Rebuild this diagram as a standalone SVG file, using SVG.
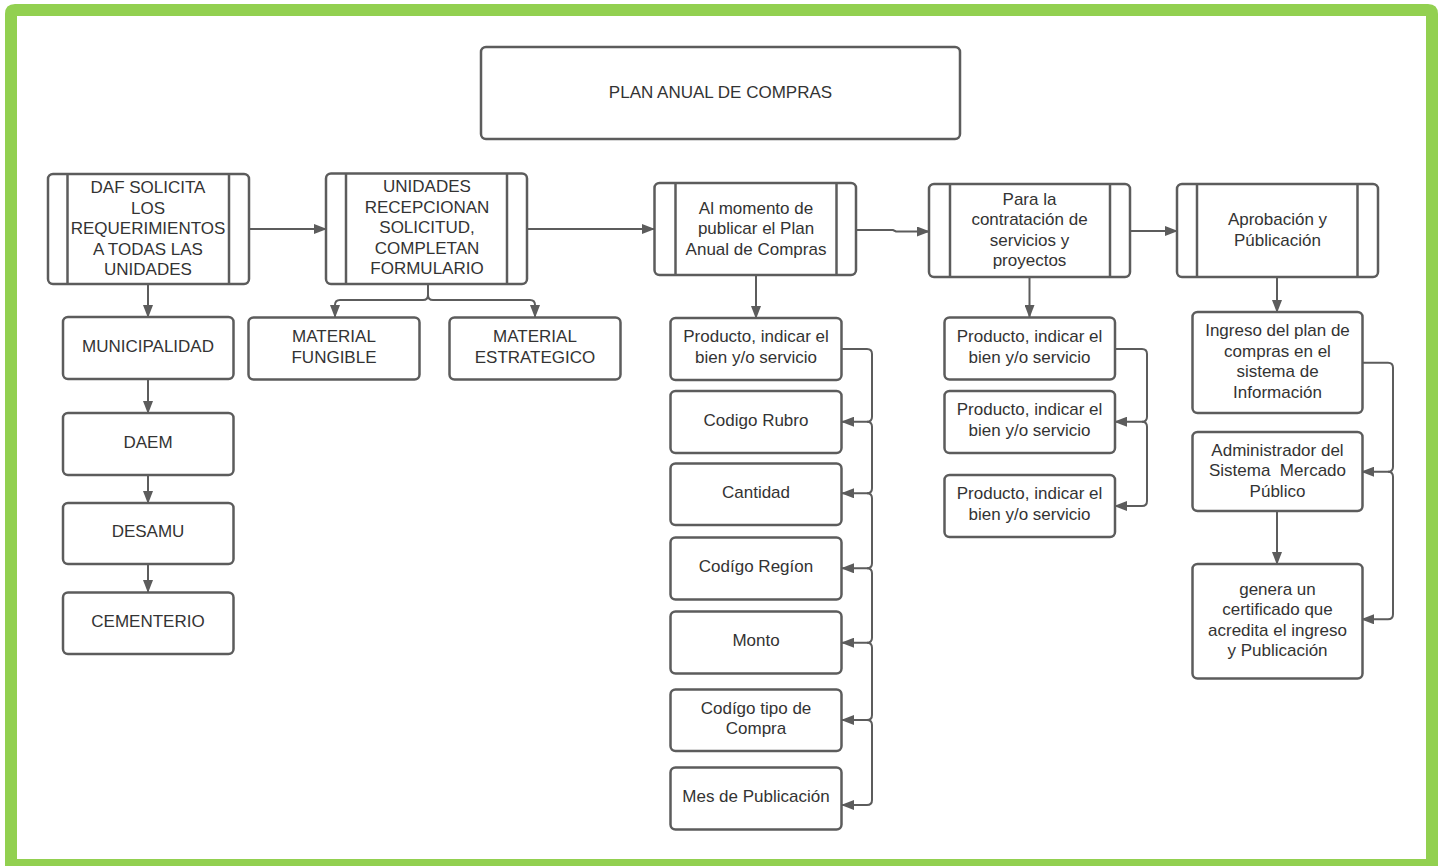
<svg xmlns="http://www.w3.org/2000/svg" width="1441" height="866" viewBox="0 0 1441 866">
<style>
.box{fill:#fff;stroke:#5c5c5c;stroke-width:2.5}
.bar{stroke:#5c5c5c;stroke-width:2.5}
.t{font-family:"Liberation Sans",Arial,sans-serif;font-size:17px;fill:#333;text-anchor:middle;white-space:pre}
.c{fill:none;stroke:#5c5c5c;stroke-width:2}
.ca{fill:none;stroke:#5c5c5c;stroke-width:2;marker-end:url(#ah)}
</style>
<defs>
<marker id="ah" viewBox="0 0 13 10" refX="12" refY="5" markerWidth="13" markerHeight="10" markerUnits="userSpaceOnUse" orient="auto">
<path d="M0,0 L13,5 L0,10 z" fill="#5c5c5c"/>
</marker>
</defs>
<rect x="0" y="0" width="1441" height="866" fill="#fff"/>
<path d="M15,4 H1428 Q1438,4 1438,14 V880 H5 V14 Q5,4 15,4 Z M17,16 V859 H1426 V16 Z" fill="#92d050" fill-rule="evenodd"/>

<g id="connectors">
<path class="ca" d="M249,229 H326"/>
<path class="ca" d="M527,229 H654"/>
<path class="ca" d="M856,230 H893 L896,231.5 H929"/>
<path class="ca" d="M1130,231 H1177"/>
<path class="ca" d="M428,284 V295 Q428,300 423,300 H340 Q335,300 335,305 V317"/>
<path class="ca" d="M428,284 V295 Q428,300 433,300 H530 Q535,300 535,305 V317"/>
<path class="ca" d="M148,284 V317"/>
<path class="ca" d="M148,379 V413"/>
<path class="ca" d="M148,475 V503"/>
<path class="ca" d="M148,564 V592"/>
<path class="ca" d="M756,275 V318"/>
<path class="ca" d="M1029.5,277 V317"/>
<path class="ca" d="M1277,277 V312"/>
<path class="ca" d="M1277,511 V564"/>
<path class="ca" d="M842,349 H867 Q872,349 872,354 V416.7 Q872,421.7 867,421.7 H842"/>
<path class="ca" d="M867,421.7 Q872,421.7 872,426.7 V488.3 Q872,493.3 867,493.3 H842"/>
<path class="ca" d="M867,493.3 Q872,493.3 872,498.3 V563.3 Q872,568.3 867,568.3 H842"/>
<path class="ca" d="M867,568.3 Q872,568.3 872,573.3 V637.7 Q872,642.7 867,642.7 H842"/>
<path class="ca" d="M867,642.7 Q872,642.7 872,647.7 V715 Q872,720 867,720 H842"/>
<path class="ca" d="M867,720 Q872,720 872,725 V800 Q872,805 867,805 H842"/>
<path class="ca" d="M1115,349 H1142 Q1147,349 1147,354 V416.7 Q1147,421.7 1142,421.7 H1115"/>
<path class="ca" d="M1142,421.7 Q1147,421.7 1147,426.7 V501 Q1147,506 1142,506 H1115"/>
<path class="ca" d="M1362,362.7 H1388 Q1393,362.7 1393,367.7 V466.7 Q1393,471.7 1388,471.7 H1362"/>
<path class="ca" d="M1388,471.7 Q1393,471.7 1393,476.7 V614.3 Q1393,619.3 1388,619.3 H1362"/>
</g>

<g id="title">
<rect class="box" x="481" y="47" width="479" height="92" rx="5"/>
<text class="t" x="720.5" y="98">PLAN ANUAL DE COMPRAS</text>
</g>

<g id="daf">
<rect class="box" x="48" y="174" width="201" height="110" rx="5"/>
<line class="bar" x1="67.5" y1="174" x2="67.5" y2="284"/>
<line class="bar" x1="229" y1="174" x2="229" y2="284"/>
<text class="t" x="148" y="193">DAF SOLICITA</text>
<text class="t" x="148" y="213.6">LOS</text>
<text class="t" x="148" y="234.2">REQUERIMIENTOS</text>
<text class="t" x="148" y="254.8">A TODAS LAS</text>
<text class="t" x="148" y="275.4">UNIDADES</text>
</g>

<g id="unidades">
<rect class="box" x="326" y="173.5" width="201" height="110.5" rx="5"/>
<line class="bar" x1="346" y1="173.5" x2="346" y2="284"/>
<line class="bar" x1="507" y1="173.5" x2="507" y2="284"/>
<text class="t" x="427" y="192">UNIDADES</text>
<text class="t" x="427" y="212.6">RECEPCIONAN</text>
<text class="t" x="427" y="233.2">SOLICITUD,</text>
<text class="t" x="427" y="253.8">COMPLETAN</text>
<text class="t" x="427" y="274.4">FORMULARIO</text>
</g>

<g id="almomento">
<rect class="box" x="654.5" y="183" width="201.5" height="92" rx="5"/>
<line class="bar" x1="675.5" y1="183" x2="675.5" y2="275"/>
<line class="bar" x1="836.5" y1="183" x2="836.5" y2="275"/>
<text class="t" x="756" y="213.5">Al momento de</text>
<text class="t" x="756" y="234.1">publicar el Plan</text>
<text class="t" x="756" y="254.7">Anual de Compras</text>
</g>

<g id="paracontratacion">
<rect class="box" x="929" y="184" width="201" height="93" rx="5"/>
<line class="bar" x1="950" y1="184" x2="950" y2="277"/>
<line class="bar" x1="1110" y1="184" x2="1110" y2="277"/>
<text class="t" x="1029.5" y="204.5">Para la</text>
<text class="t" x="1029.5" y="225.1">contratación de</text>
<text class="t" x="1029.5" y="245.7">servicios y</text>
<text class="t" x="1029.5" y="266.3">proyectos</text>
</g>

<g id="aprobacion">
<rect class="box" x="1177" y="184" width="201" height="93" rx="5"/>
<line class="bar" x1="1197" y1="184" x2="1197" y2="277"/>
<line class="bar" x1="1357.5" y1="184" x2="1357.5" y2="277"/>
<text class="t" x="1277.5" y="225">Aprobación y</text>
<text class="t" x="1277.5" y="245.6">Públicación</text>
</g>

<g id="municipalidad">
<rect class="box" x="63" y="317" width="170.5" height="62" rx="5"/>
<text class="t" x="148" y="352">MUNICIPALIDAD</text>
</g>
<g id="daem">
<rect class="box" x="63" y="413" width="170.5" height="62" rx="5"/>
<text class="t" x="148" y="447.5">DAEM</text>
</g>
<g id="desamu">
<rect class="box" x="63" y="503" width="170.5" height="61" rx="5"/>
<text class="t" x="148" y="537">DESAMU</text>
</g>
<g id="cementerio">
<rect class="box" x="63" y="592.5" width="170.5" height="61.5" rx="5"/>
<text class="t" x="148" y="626.5">CEMENTERIO</text>
</g>

<g id="fungible">
<rect class="box" x="248.5" y="317.5" width="171" height="62" rx="5"/>
<text class="t" x="334" y="342">MATERIAL</text>
<text class="t" x="334" y="362.6">FUNGIBLE</text>
</g>
<g id="estrategico">
<rect class="box" x="449.5" y="317.5" width="171" height="62" rx="5"/>
<text class="t" x="535" y="342">MATERIAL</text>
<text class="t" x="535" y="362.6">ESTRATEGICO</text>
</g>

<g id="c1-producto">
<rect class="box" x="670.5" y="318" width="171" height="62" rx="5"/>
<text class="t" x="756" y="342">Producto, indicar el</text>
<text class="t" x="756" y="362.6">bien y/o servicio</text>
</g>
<g id="c1-rubro">
<rect class="box" x="670.5" y="391" width="171" height="62" rx="5"/>
<text class="t" x="756" y="426">Codigo Rubro</text>
</g>
<g id="c1-cantidad">
<rect class="box" x="670.5" y="463.5" width="171" height="61.5" rx="5"/>
<text class="t" x="756" y="498">Cantidad</text>
</g>
<g id="c1-region">
<rect class="box" x="670.5" y="537.5" width="171" height="62" rx="5"/>
<text class="t" x="756" y="572">Codígo Regíon</text>
</g>
<g id="c1-monto">
<rect class="box" x="670.5" y="611.5" width="171" height="62" rx="5"/>
<text class="t" x="756" y="646">Monto</text>
</g>
<g id="c1-tipo">
<rect class="box" x="670.5" y="689.5" width="171" height="61.5" rx="5"/>
<text class="t" x="756" y="713.5">Codígo tipo de</text>
<text class="t" x="756" y="734.1">Compra</text>
</g>
<g id="c1-mes">
<rect class="box" x="670.5" y="767.5" width="171" height="62" rx="5"/>
<text class="t" x="756" y="801.5">Mes de Publicación</text>
</g>

<g id="c2-producto1">
<rect class="box" x="944.5" y="317.5" width="170.5" height="62" rx="5"/>
<text class="t" x="1029.5" y="342">Producto, indicar el</text>
<text class="t" x="1029.5" y="362.6">bien y/o servicio</text>
</g>
<g id="c2-producto2">
<rect class="box" x="944.5" y="391" width="170.5" height="62" rx="5"/>
<text class="t" x="1029.5" y="415">Producto, indicar el</text>
<text class="t" x="1029.5" y="435.6">bien y/o servicio</text>
</g>
<g id="c2-producto3">
<rect class="box" x="944.5" y="475" width="170.5" height="62" rx="5"/>
<text class="t" x="1029.5" y="499">Producto, indicar el</text>
<text class="t" x="1029.5" y="519.6">bien y/o servicio</text>
</g>

<g id="ingreso">
<rect class="box" x="1192.5" y="312" width="170" height="101" rx="5"/>
<text class="t" x="1277.5" y="336">Ingreso del plan de</text>
<text class="t" x="1277.5" y="356.6">compras en el</text>
<text class="t" x="1277.5" y="377.2">sistema de</text>
<text class="t" x="1277.5" y="397.8">Información</text>
</g>
<g id="administrador">
<rect class="box" x="1192.5" y="432" width="170" height="79" rx="5"/>
<text class="t" x="1277.5" y="455.5">Administrador del</text>
<text class="t" x="1277.5" y="476.1">Sistema  Mercado</text>
<text class="t" x="1277.5" y="496.7">Público</text>
</g>
<g id="genera">
<rect class="box" x="1192.5" y="564" width="170" height="114.5" rx="5"/>
<text class="t" x="1277.5" y="594.5">genera un</text>
<text class="t" x="1277.5" y="615.1">certificado que</text>
<text class="t" x="1277.5" y="635.7">acredita el ingreso</text>
<text class="t" x="1277.5" y="656.3">y Publicación</text>
</g>
</svg>
